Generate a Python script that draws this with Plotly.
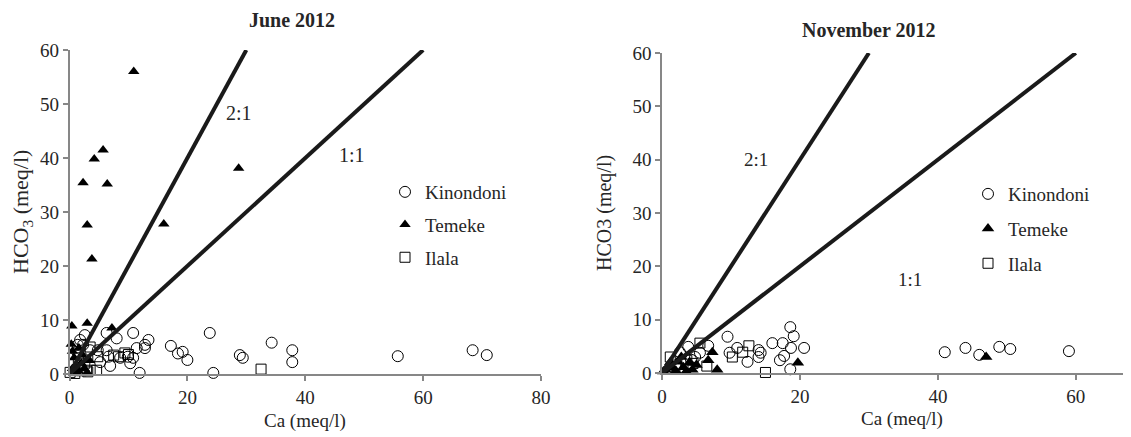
import plotly.graph_objects as go

# ---------------- data: June 2012 ----------------
jun_kin_ca = [1.3, 1.8, 2.3, 2.6, 3.5, 5.2, 6.3, 6.3, 6.6, 6.9, 8.0, 8.6, 9.9, 10.3, 10.8, 10.8, 11.4, 11.9,
              12.8, 12.8, 13.4, 17.2, 18.4, 19.2, 20.0, 23.8, 24.4, 28.9, 29.4, 34.3, 37.8, 37.8, 55.7, 68.4, 70.8,
              4.8, 1.4]
jun_kin_hco3 = [4.1, 6.3, 5.4, 7.2, 4.4, 2.2, 7.6, 4.4, 3.2, 1.5, 6.6, 3.0, 3.2, 2.0, 3.0, 7.6, 4.8, 0.2,
                4.8, 5.4, 6.3, 5.2, 3.8, 4.1, 2.6, 7.6, 0.2, 3.5, 3.0, 5.8, 4.4, 2.2, 3.3, 4.4, 3.5,
                4.4, 5.4]
jun_tem_ca = [0.4, 3.0, 7.2, 2.3, 4.2, 5.7, 6.4, 10.9, 28.7, 3.0, 3.8, 16.0,
              0.3, 0.5, 0.8, 1.0, 1.5, 2.0, 2.5, 3.0, 1.2, 0.5, 2.2, 1.6, 3.4]
jun_tem_hco3 = [8.9, 9.4, 8.5, 35.4, 39.8, 41.5, 35.2, 56.0, 38.1, 27.6, 21.3, 27.8,
                5.5, 4.2, 3.0, 1.5, 0.5, 2.0, 1.0, 0.3, 0.2, 1.0, 3.5, 4.8, 2.5]
jun_ila_ca = [0.1, 0.9, 3.1, 4.6, 3.5, 8.3, 9.4, 4.8, 3.5, 2.0, 1.5, 2.6, 32.5, 7.5, 10.0]
jun_ila_hco3 = [0.3, 0.1, 0.4, 0.7, 5.0, 3.2, 3.9, 3.2, 0.7, 0.6, 3.0, 2.0, 0.9, 3.5, 3.6]

# ---------------- data: November 2012 ----------------
nov_kin_ca = [2.6, 3.8, 4.8, 5.5, 6.7, 4.2, 9.5, 9.8, 10.9, 12.4, 14.0, 14.3, 14.0, 16.0, 17.5, 17.1, 17.7,
              18.6, 19.1, 18.7, 18.6, 20.6, 41.0, 44.0, 46.0, 48.9, 50.5, 59.0]
nov_kin_hco3 = [3.9, 4.9, 3.0, 3.8, 5.1, 2.5, 6.8, 3.8, 4.7, 2.1, 4.3, 3.8, 3.0, 5.6, 5.6, 2.4, 3.2,
                8.6, 6.9, 4.7, 0.7, 4.7, 3.9, 4.7, 3.4, 4.9, 4.5, 4.1]
nov_tem_ca = [0.2, 0.5, 1.0, 1.5, 2.0, 2.3, 3.1, 3.5, 4.4, 4.0, 5.0, 6.7, 7.3, 8.0, 19.7, 47.0, 2.8, 1.2]
nov_tem_hco3 = [0.3, 0.6, 1.0, 1.1, 0.4, 2.1, 1.1, 0.3, 0.6, 2.0, 1.5, 2.4, 3.9, 0.6, 1.9, 3.0, 3.0, 2.0]
nov_ila_ca = [1.2, 3.6, 5.5, 6.5, 10.2, 11.7, 12.6, 15.0, 2.0, 4.5]
nov_ila_hco3 = [3.0, 2.4, 5.6, 1.3, 3.0, 3.9, 5.1, 0.1, 1.5, 1.8]

# reference ratio lines (HCO3 : Ca)
ratios = [2, 1]
ratio_labels = ["2:1", "1:1"]
y_max = 60

# the page body adds an 8px offset; size the figure so it fits the 1131x437 window
OFF = 8
W, H = 1131 - OFF, 437 - OFF
FONT = "Liberation Serif"
AXCOL = "#878787"
TXT = "#262626"


def px_x(p):
    return (p - OFF) / W


def px_y(p):
    return 1 - (p - OFF) / H


fig = go.Figure()


def add_panel(xa, ya, leg, kin, tem, ila, size_c, size_t, size_s):
    common = dict(xaxis=xa, yaxis=ya, legend=leg, mode="markers", cliponaxis=False)
    fig.add_trace(go.Scatter(x=kin[0], y=kin[1], name="Kinondoni", legendgroup=leg + "k",
                             marker=dict(symbol="circle-open", size=size_c, color="black",
                                         line=dict(width=1, color="black")), **common))
    fig.add_trace(go.Scatter(x=tem[0], y=tem[1], name="Temeke", legendgroup=leg + "t",
                             marker=dict(symbol="triangle-up", size=size_t, color="black"), **common))
    fig.add_trace(go.Scatter(x=ila[0], y=ila[1], name="Ilala", legendgroup=leg + "i",
                             marker=dict(symbol="square-open", size=size_s, color="black",
                                         line=dict(width=1, color="black")), **common))
    for r in ratios:
        fig.add_trace(go.Scatter(x=[0, y_max / r], y=[0, y_max], mode="lines", xaxis=xa, yaxis=ya,
                                 showlegend=False, line=dict(color="#1a1a1a", width=4), hoverinfo="skip"))


add_panel("x", "y", "legend", (jun_kin_ca, jun_kin_hco3), (jun_tem_ca, jun_tem_hco3),
          (jun_ila_ca, jun_ila_hco3), 11, 10, 10)
add_panel("x2", "y2", "legend2", (nov_kin_ca, nov_kin_hco3), (nov_tem_ca, nov_tem_hco3),
          (nov_ila_ca, nov_ila_hco3), 11, 11, 10)

axis_common = dict(showgrid=False, zeroline=False, showline=True, linecolor=AXCOL, linewidth=1.5,
                   ticks="outside", ticklen=5, tickcolor=AXCOL, tickwidth=1.5, automargin=False,
                   tickfont=dict(family=FONT, size=19, color=TXT))

fig.update_layout(
    width=W, height=H,
    margin=dict(l=0, r=0, t=0, b=0, pad=0, autoexpand=False),
    paper_bgcolor="white", plot_bgcolor="white",
    font=dict(family=FONT, color=TXT),
    xaxis=dict(domain=[px_x(69.5), px_x(541)], range=[0, 80], dtick=20, anchor="y", **axis_common),
    yaxis=dict(domain=[px_y(374), px_y(50)], range=[0, 60], dtick=10, anchor="x", **axis_common),
    xaxis2=dict(domain=[px_x(662), 1.0], range=[0, 68], dtick=20, anchor="y2", **axis_common),
    yaxis2=dict(domain=[px_y(373), px_y(53)], range=[0, 60], dtick=10, anchor="x2", **axis_common),
    legend=dict(x=px_x(385), y=px_y(173), xanchor="left", yanchor="top", bgcolor="rgba(0,0,0,0)",
                font=dict(family=FONT, size=19, color=TXT), tracegroupgap=5, itemwidth=30),
    legend2=dict(x=px_x(968), y=px_y(175), xanchor="left", yanchor="top", bgcolor="rgba(0,0,0,0)",
                 font=dict(family=FONT, size=19, color=TXT), tracegroupgap=7, itemwidth=30),
    showlegend=True,
)

annotations = [
    dict(text="<b>June 2012</b>", x=px_x(292), y=px_y(20), font=dict(size=20)),
    dict(text="<b>November 2012</b>", x=px_x(869), y=px_y(30), font=dict(size=20)),
    dict(text="Ca (meq/l)", x=px_x(305), y=px_y(421), font=dict(size=19)),
    dict(text="Ca (meq/l)", x=px_x(902), y=px_y(419), font=dict(size=19)),
    dict(text="HCO<sub>3</sub> (meq/l)", x=px_x(22), y=px_y(212), textangle=-90, font=dict(size=22)),
    dict(text="HCO3 (meq/l)", x=px_x(605), y=px_y(213), textangle=-90, font=dict(size=20)),
]
for a in annotations:
    a.update(xref="paper", yref="paper", showarrow=False, xanchor="center", yanchor="middle")
    a["font"] = dict(family=FONT, color=TXT, **a["font"])
    fig.add_annotation(**a)

# ratio line labels (data coordinates)
label_pos_jun = [(28.8, 48.3), (47.9, 40.6)]
label_pos_nov = [(13.6, 40.0), (35.9, 17.6)]
for (lx, ly), t in zip(label_pos_jun, ratio_labels):
    fig.add_annotation(x=lx, y=ly, xref="x", yref="y", text=t, showarrow=False,
                       font=dict(family=FONT, size=20, color=TXT))
for (lx, ly), t in zip(label_pos_nov, ratio_labels):
    fig.add_annotation(x=lx, y=ly, xref="x2", yref="y2", text=t, showarrow=False,
                       font=dict(family=FONT, size=19, color=TXT))

fig.write_html("out.html")
